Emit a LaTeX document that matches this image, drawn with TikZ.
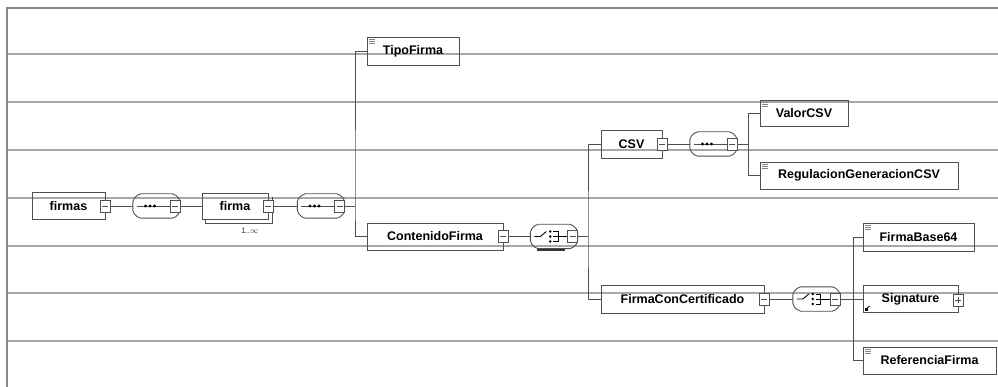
\documentclass[tikz,border=0pt]{standalone}
\usepackage{fontspec}
\setmainfont{Liberation Sans}
\definecolor{rowc}{HTML}{A8A8A8}
\definecolor{boxc}{HTML}{505050}
\definecolor{framec}{HTML}{858585}
\tikzset{
  elem/.style={draw=boxc, line width=0.9pt, inner sep=0pt, font=\fontsize{12.5}{14}\selectfont\bfseries, text=black},
  comp/.style={draw=none, inner sep=0pt, minimum width=47pt, minimum height=24pt},
  mbox/.style={draw=boxc, fill=white, line width=0.8pt, minimum width=10pt, minimum height=12pt, inner sep=0pt},
  conn/.style={draw=boxc, line width=0.9pt},
  rowline/.style={draw=rowc, line width=1.5pt},
}
\newcommand\mnode[2]{\node[mbox] (#1) at (#2) {};
  \draw[boxc,line width=0.8pt] ([xshift=-3pt]#1.center) -- ([xshift=3pt]#1.center);}
\newcommand\pnode[2]{\node[mbox] (#1) at (#2) {};
  \draw[boxc,line width=0.8pt] ([xshift=-3pt]#1.center) -- ([xshift=3pt]#1.center)
    ([yshift=-3pt]#1.center) -- ([yshift=3pt]#1.center);}
\newcommand\octa[1]{\draw[boxc, line width=0.9pt, rounded corners=2pt] ([xshift=6pt]#1.north west) -- ([xshift=-6pt]#1.north east) -- ([yshift=-6pt]#1.north east) -- ([yshift=6pt]#1.south east) -- ([xshift=-6pt]#1.south east) -- ([xshift=6pt]#1.south west) -- ([yshift=6pt]#1.south west) -- ([yshift=-6pt]#1.north west) -- cycle;}
\newcommand\docicon[1]{\draw[boxc!70, line width=0.7pt] ([xshift=2pt,yshift=-3pt]#1.north west) -- ([xshift=8pt,yshift=-3pt]#1.north west) ([xshift=2pt,yshift=-5pt]#1.north west) -- ([xshift=8pt,yshift=-5pt]#1.north west) ([xshift=2pt,yshift=-7pt]#1.north west) -- ([xshift=8pt,yshift=-7pt]#1.north west);}
\newcommand\seqin[2]{\draw[boxc,line width=0.8pt] ([xshift=4pt]#1.west) -- (#2.west);
  \fill[black] ([xshift=-11pt]#1.center) circle (1.7pt) ([xshift=-6.5pt]#1.center) circle (1.7pt) ([xshift=-2pt]#1.center) circle (1.7pt);}
\newcommand\choicein[2]{\draw[black,line width=0.9pt] ([xshift=4pt]#1.west) -- ([xshift=10pt]#1.west) -- ([xshift=16pt,yshift=5pt]#1.west);
  \fill[black] ([xshift=20pt,yshift=5pt]#1.west) circle (1.4pt) ([xshift=20pt]#1.west) circle (1.4pt) ([xshift=20pt,yshift=-5pt]#1.west) circle (1.4pt);
  \draw[black,line width=0.9pt] ([xshift=23pt,yshift=5pt]#1.west) -- ([xshift=28pt,yshift=5pt]#1.west) -- ([xshift=28pt,yshift=-5pt]#1.west) -- ([xshift=23pt,yshift=-5pt]#1.west)
    ([xshift=23pt]#1.west) -- (#2.west);}
\begin{document}
\begin{tikzpicture}[x=1pt,y=-1pt]
\useasboundingbox (0,0) rectangle (998,387);
% grid / frame
\foreach \yy in {54,102,150,198,246,293,341} \draw[rowline] (7,\yy) -- (998,\yy);
\draw[framec, line width=2pt] (7,387) -- (7,8) -- (998,8);

% nodes
\node[elem, minimum width=73pt, minimum height=27pt] (firmas) at (68.5,206) {firmas};
\node[comp] (seq1) at (156.5,206) {};
\node[elem, minimum width=66pt, minimum height=26pt] (firma) at (235,206) {firma};
\node[comp] (seq2) at (321,206) {};
\node[elem, minimum width=92pt, minimum height=28pt] (tipo) at (413,51) {TipoFirma};
\node[elem, minimum width=136pt, minimum height=27pt] (cont) at (435,236.5) {ContenidoFirma};
\node[comp] (ch1) at (554,236.5) {};
\node[elem, minimum width=61pt, minimum height=28pt] (csv) at (631.5,144) {CSV};
\node[comp] (seq3) at (713.5,144) {};
\node[elem, minimum width=88pt, minimum height=26pt] (valor) at (804,113) {ValorCSV};
\node[elem, minimum width=198pt, minimum height=27pt] (regul) at (859,175.5) {RegulacionGeneracionCSV};
\node[elem, minimum width=163pt, minimum height=28pt] (fcc) at (682.5,299) {FirmaConCertificado};
\node[comp] (ch2) at (816.5,299) {};
\node[elem, minimum width=111pt, minimum height=28pt] (fb64) at (918.5,237) {FirmaBase64};
\node[elem, minimum width=95pt, minimum height=27pt] (sig) at (910.5,299) {Signature};
\node[elem, minimum width=133pt, minimum height=27pt] (reff) at (929.5,360.5) {ReferenciaFirma};
\node[font=\fontsize{8}{8}\selectfont, text=black!80] (occ) at (250,231) {1..$\infty$};

% stacked shadow of firma
\draw[boxc, line width=0.9pt] ([xshift=4pt,yshift=-4pt]firma.north east) -- ([xshift=4pt,yshift=-4pt]firma.south east) -- ([xshift=4pt,yshift=-4pt]firma.south west) -- ([xshift=4pt]firma.south west);

% compositors
\octa{seq1} \octa{seq2} \octa{seq3} \octa{ch1} \octa{ch2}
\draw[black!80, line width=2.5pt] ([xshift=7pt,yshift=-1.5pt]ch1.south west) -- ([xshift=35pt,yshift=-1.5pt]ch1.south west);

% minus / plus boxes
\mnode{firmasM}{firmas.east}
\mnode{firmaM}{firma.east}
\mnode{contM}{cont.east}
\mnode{csvM}{csv.east}
\mnode{fccM}{fcc.east}
\mnode{seq1M}{[xshift=-5pt]seq1.east}
\mnode{seq2M}{[xshift=-5pt]seq2.east}
\mnode{seq3M}{[xshift=-5pt]seq3.east}
\mnode{ch1M}{[xshift=-5pt]ch1.east}
\mnode{ch2M}{[xshift=-5pt]ch2.east}
\pnode{sigP}{[yshift=-1pt]sig.east}

\seqin{seq1}{seq1M} \seqin{seq2}{seq2M} \seqin{seq3}{seq3M}
\choicein{ch1}{ch1M} \choicein{ch2}{ch2M}

% documentation icons
\docicon{tipo} \docicon{valor} \docicon{regul} \docicon{fb64} \docicon{reff}

% reference arrow on Signature
\draw[black, line width=1pt] ([xshift=3pt,yshift=3pt]sig.south west) -- ([xshift=7pt,yshift=7pt]sig.south west);
\fill[black] ([xshift=2pt,yshift=2pt]sig.south west) rectangle ([xshift=5pt,yshift=5pt]sig.south west);

% trunk coordinates
\coordinate (t1) at (355,206);
\coordinate (t2) at (588,236.5);
\coordinate (t3) at (748,144);
\coordinate (t4) at (853,299);

% connectors
\draw[conn] (firmasM.east) -- (seq1.west);
\draw[conn] (seq1M.east) -- (firma.west);
\draw[conn] (firmaM.east) -- (seq2.west);
\draw[conn] (seq2M.east) -- (t1);
\draw[conn] (tipo.west) -| (t1) |- (cont.west);
\draw[conn] (contM.east) -- (ch1.west);
\draw[conn] (ch1M.east) -- (t2);
\draw[conn] (csv.west) -| (t2) |- (fcc.west);
\draw[conn] (csvM.east) -- (seq3.west);
\draw[conn] (seq3M.east) -- (t3);
\draw[conn] (valor.west) -| (t3) |- (regul.west);
\draw[conn] (fccM.east) -- (ch2.west);
\draw[conn] (ch2M.east) -- (t4);
\draw[conn] (fb64.west) -| (t4) |- (reff.west);
\draw[conn] (t4) -- (sig.west);
\end{tikzpicture}
\end{document}
